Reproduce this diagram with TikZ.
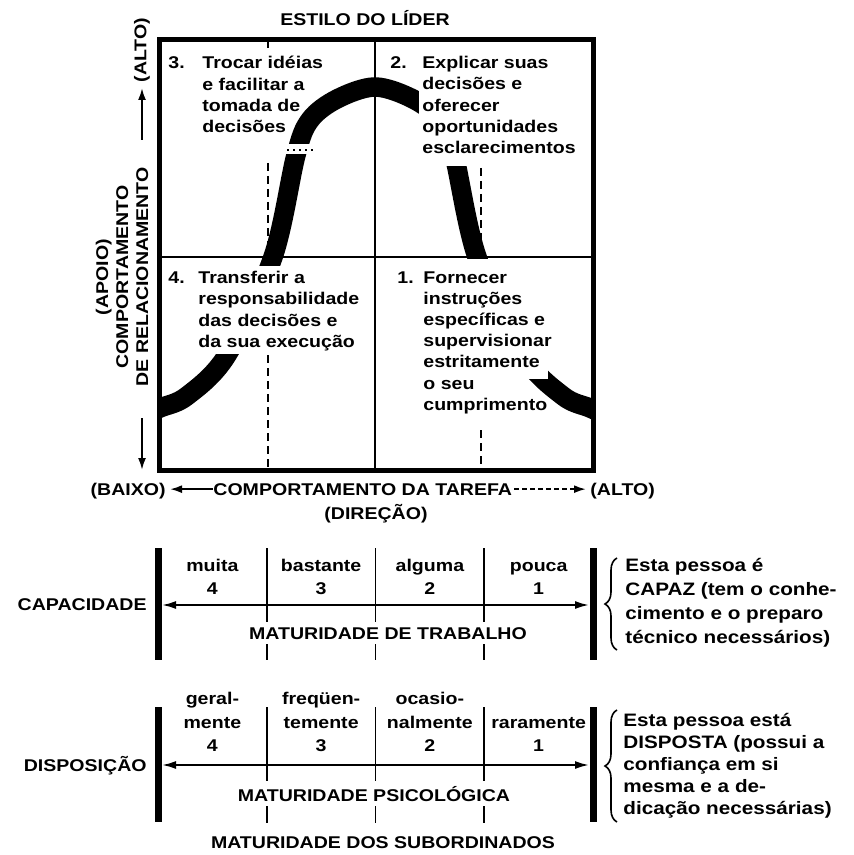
\documentclass[tikz,border=0pt]{standalone}
\usepackage{fontspec}
\setmainfont{Liberation Sans}[FakeStretch=1.15]
\usetikzlibrary{arrows.meta,decorations.pathreplacing}

\begin{document}
\begin{tikzpicture}[x=0.5pt,y=-0.5pt,
  every node/.style={font=\fontsize{8.5}{10.6}\selectfont\bfseries, inner sep=0pt},
  faixa/.style={line width=9.75pt},
  moldura/.style={line width=2.5pt},
  divisa/.style={line width=1pt},
  guia/.style={line width=0.8pt, dash pattern=on 4pt off 2.5pt},
  seta/.style={line width=1pt, -{Latex[length=6pt,width=4pt]}},
  dupla/.style={line width=1pt, {Latex[length=7pt,width=4pt]}-{Latex[length=7pt,width=4pt]}},
  barra/.style={line width=3.5pt},
  marca/.style={line width=0.8pt},
  chave/.style={line width=0.8pt, decorate, decoration={brace, amplitude=6pt}},
  quadro/.style={anchor=north west, align=left},
  rotulo/.style={anchor=base},
  nota/.style={anchor=north west, align=left},
  halo/.style={fill=white, inner sep=2.5pt}
]
\useasboundingbox (0,0) rectangle (853,855);

% Titulo
\node[rotulo] (titulo) at (365,26) {ESTILO DO LÍDER};

% Linhas tracejadas
\draw[guia] (268,40) -- (268,52);
\draw[guia] (268,163) -- (268,257);
\draw[guia] (268,355) -- (268,470);
\draw[guia] (481,168) -- (481,257);
\draw[guia] (481,430) -- (481,470);

% Curva
\begin{scope}
  \clip (159,40) rectangle (593,470);
  \draw[faixa] plot[smooth, tension=0.55] coordinates {(140,417) (160,408) (187,396) (227,355)
    (273,257) (296,155) (310,120) (337,99) (375,87) (413,99) (440,120) (454,155)
    (477,257) (523,355) (563,396) (590,408) (610,417)};
\end{scope}

% Cortes da curva
\fill[white] (280,144) rectangle (322,154);
\draw[dotted, line width=1pt] (287,150) -- (315,150);
\fill[white] (190,266) rectangle (300,354);
\fill[white] (418.5,55) rectangle (500,166);
\fill[white] (462,259) rectangle (548,379);

% Quadro
\draw[moldura] (159,40) rectangle (593,470);
\draw[divisa] (375,40) -- (375,470);
\draw[divisa] (159,257) -- (593,257);

% Quadrantes
\node[quadro] (n3) at (168,56) {3.};
\node[quadro] (q3) at (202,56) {Trocar idéias\\e facilitar a\\tomada de\\decisões};
\node[quadro] (n2) at (390,56) {2.};
\node[quadro] (q2) at (422,56) {Explicar suas\\decisões e\\oferecer\\oportunidades\\esclarecimentos};
\node[quadro] (n4) at (168,271) {4.};
\node[quadro] (q4) at (198,271) {Transferir a\\responsabilidade\\das decisões e\\da sua execução};
\node[quadro] (n1) at (397,271) {1.};
\node[quadro] (q1) at (423,271) {Fornecer\\instruções\\específicas e\\supervisionar\\estritamente\\o seu\\cumprimento};

% Eixo y
\node[rotate=90, align=center, font=\fontsize{8.5}{10}\selectfont\bfseries] (eixoy) at (122,277)
  {(APOIO)\\COMPORTAMENTO\\DE RELACIONAMENTO};
\node[rotate=90] (altoy) at (142,50) {(ALTO)};
\coordinate (sobe0) at (142,140);
\coordinate (sobe1) at (142,88);
\draw[seta] (sobe0) -- (sobe1);
\coordinate (desce0) at (142,418);
\coordinate (desce1) at (142,470);
\draw[seta] (desce0) -- (desce1);

% Eixo x
\node[anchor=base east] (baixo) at (166,495) {(BAIXO)};
\node[anchor=base west] (tarefa) at (213,495) {COMPORTAMENTO DA TAREFA};
\node[anchor=base west] (altox) at (590,495) {(ALTO)};
\draw[seta, shorten >=2pt] (tarefa.west) -- (baixo.east |- tarefa.west);
\draw[seta, dash pattern=on 2.5pt off 1.5pt, shorten <=1pt, shorten >=2pt] (tarefa.east) -- (altox.west |- tarefa.east);
\node[rotulo] (direcao) at (376,519) {(DIREÇÃO)};

% Capacidade
\draw[barra] (158,548) -- (158,660);
\draw[barra] (593,548) -- (593,660);
\foreach \k in {1,2,3}
  \draw[marca] ({158+108.75*\k},548) -- ({158+108.75*\k},660);
\coordinate (cap0) at (162,605);
\coordinate (cap1) at (589,605);
\draw[dupla] (cap0) -- (cap1);
\foreach \i/\q/\n in {0/muita/4,1/bastante/3,2/alguma/2,3/pouca/1} {
  \node[rotulo] (capq\i) at ({212.4+108.75*\i},571) {\q};
  \node[rotulo] (capn\i) at ({212.4+108.75*\i},594) {\n};
}
\node[anchor=base east] (capacidade) at (147,610) {CAPACIDADE};
\node[rotulo, halo] (trabalho) at (388,639) {MATURIDADE DE TRABALHO};
\draw[chave] (617,650) -- (617,558);
\node[nota, font=\fontsize{9}{12}\selectfont\bfseries] (capaz) at (625,558)
  {Esta pessoa é\\CAPAZ (tem o conhe-\\cimento e o preparo\\técnico necessários)};

% Disposicao
\draw[barra] (158,707) -- (158,822);
\draw[barra] (593,707) -- (593,822);
\foreach \k in {1,2,3}
  \draw[marca] ({158+108.75*\k},707) -- ({158+108.75*\k},823);
\coordinate (dis0) at (162,765);
\coordinate (dis1) at (589,765);
\draw[dupla] (dis0) -- (dis1);
\foreach \i/\a/\b/\n in {0/geral-/mente/4,1/freqüen-/temente/3,2/ocasio-/nalmente/2,3//raramente/1} {
  \node[rotulo] (disa\i) at ({212.4+108.75*\i},704) {\a};
  \node[rotulo] (disb\i) at ({212.4+108.75*\i},728) {\b};
  \node[rotulo] (disn\i) at ({212.4+108.75*\i},751) {\n};
}
\node[anchor=base east] (disposicao) at (147,771) {DISPOSIÇÃO};
\node[rotulo, halo] (psicologica) at (374,801) {MATURIDADE PSICOLÓGICA};
\draw[chave] (617,822) -- (617,710);
\node[nota, font=\fontsize{9}{11}\selectfont\bfseries] (disposta) at (623,713)
  {Esta pessoa está\\DISPOSTA (possui a\\confiança em si\\mesma e a de-\\dicação necessárias)};

\node[rotulo] (subordinados) at (383,848) {MATURIDADE DOS SUBORDINADOS};
\end{tikzpicture}
\end{document}
